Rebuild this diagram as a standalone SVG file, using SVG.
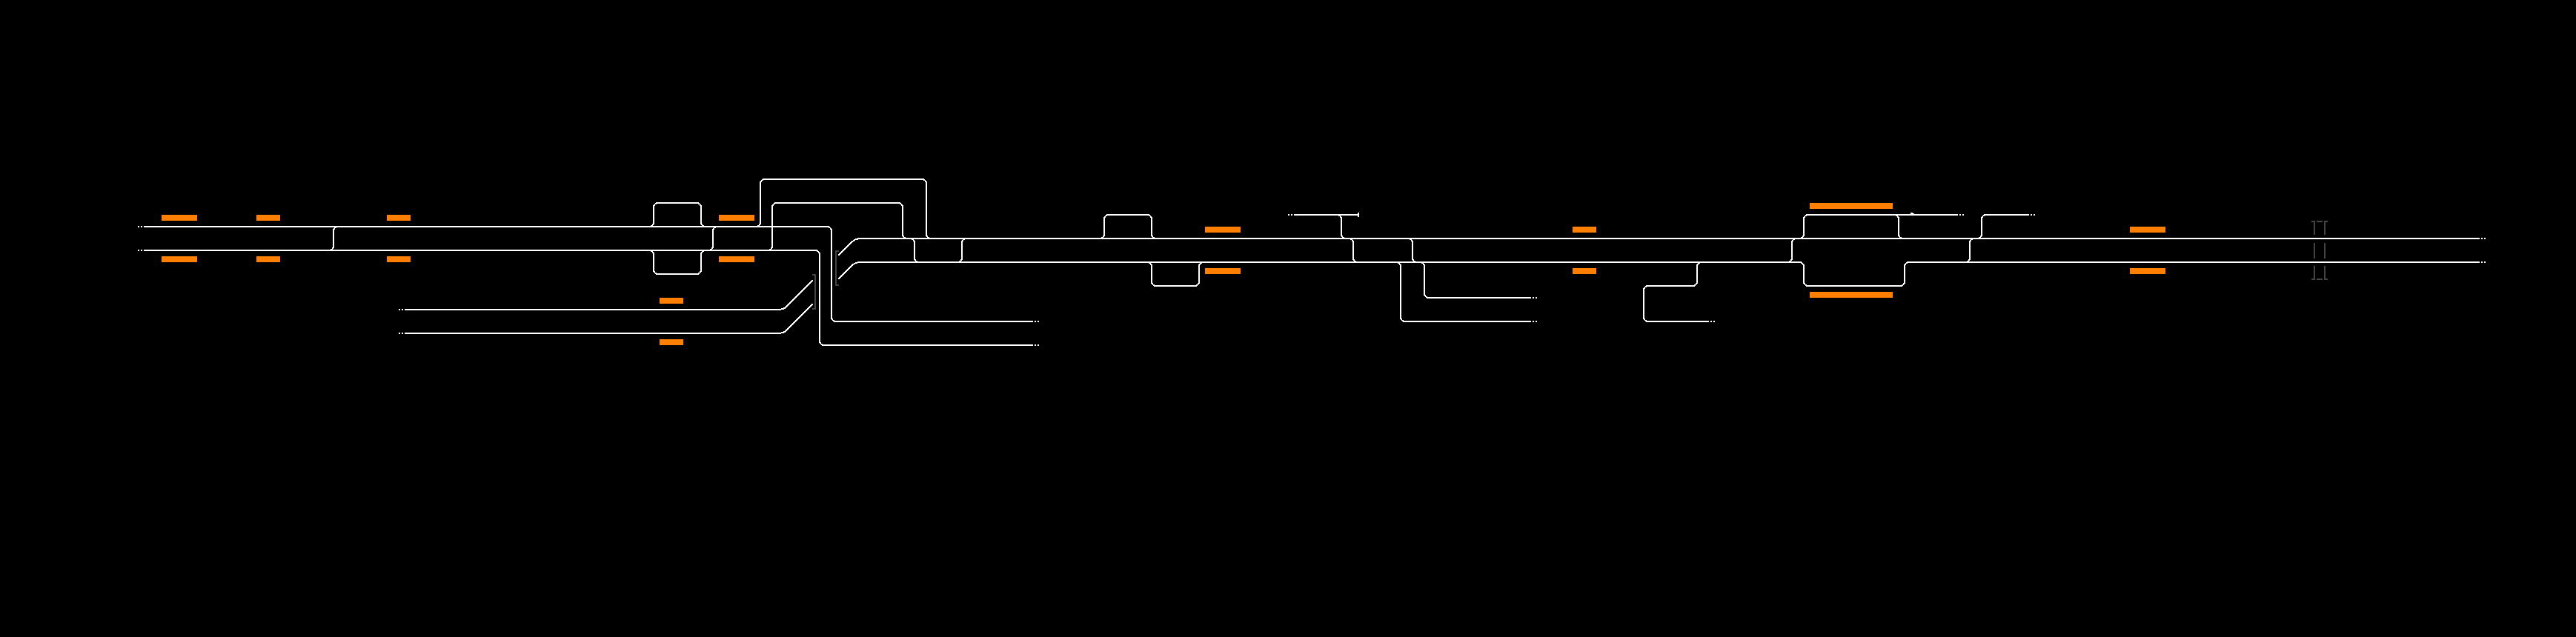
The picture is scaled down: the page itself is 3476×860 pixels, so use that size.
<svg xmlns="http://www.w3.org/2000/svg" width="3476" height="860" viewBox="0 0 3476 860">
<style>
.t{fill:none;stroke:#fff;stroke-width:2;shape-rendering:crispEdges}
.d{fill:none;stroke:#fff;stroke-width:2;stroke-dasharray:2 2;shape-rendering:crispEdges}
.g{fill:none;stroke:#444;stroke-width:2;shape-rendering:crispEdges}
.p{fill:#ff8000;shape-rendering:crispEdges}
</style>
<rect width="3476" height="860" fill="#000"/>
<g id="platforms">
<rect class="p" x="218" y="290" width="48" height="8"/><rect class="p" x="218" y="346" width="48" height="8"/>
<rect class="p" x="346" y="290" width="32" height="8"/><rect class="p" x="346" y="346" width="32" height="8"/>
<rect class="p" x="522" y="290" width="32" height="8"/><rect class="p" x="522" y="346" width="32" height="8"/>
<rect class="p" x="970" y="290" width="48" height="8"/><rect class="p" x="970" y="346" width="48" height="8"/>
<rect class="p" x="890" y="402" width="32" height="8"/><rect class="p" x="890" y="458" width="32" height="8"/>
<rect class="p" x="1626" y="306" width="48" height="8"/><rect class="p" x="1626" y="362" width="48" height="8"/>
<rect class="p" x="2122" y="306" width="32" height="8"/><rect class="p" x="2122" y="362" width="32" height="8"/>
<rect class="p" x="2442" y="274" width="112" height="8"/><rect class="p" x="2442" y="394" width="112" height="8"/>
<rect class="p" x="2874" y="306" width="48" height="8"/><rect class="p" x="2874" y="362" width="48" height="8"/>
</g>
<g id="bridges">
<path class="g" d="M1096 371H1100V417H1096"/>
<path class="g" d="M1132 339H1128V385H1132"/>
<path class="g" d="M3119 299H3123V317M3123 328V349M3123 359V377H3119M3126 299H3134M3126 377H3134M3141 299H3137V317M3137 328V349M3137 359V377H3141"/>
</g>
<g id="connectors">
<path class="t" d="M194 306H1116A6 6 0 0 1 1122 312V428A6 6 0 0 0 1128 434H1394"/>
<path class="t" d="M194 338H1100A6 6 0 0 1 1106 344V460A6 6 0 0 0 1112 466H1394"/>
<path class="t" d="M546 418H1050Q1057.4 418 1062 413.4L1096.7 378.7"/>
<path class="t" d="M546 450H1050Q1057.4 450 1062 445.4L1096.7 410.7"/>
<path class="t" d="M1131.3 345L1150 326.3Q1154.3 322 1162 322H3346"/>
<path class="t" d="M1131.3 376.7L1150 358Q1154 354 1162 354H2428A6 6 0 0 1 2434 360V380A6 6 0 0 0 2440 386H2564A6 6 0 0 0 2570 380V360A6 6 0 0 1 2576 354H3346"/>
<path class="t" d="M456 306A6 6 0 0 0 450 312V332A6 6 0 0 1 444 338"/>
<path class="t" d="M876 306A6 6 0 0 0 882 300V280A6 6 0 0 1 888 274H940A6 6 0 0 1 946 280V300A6 6 0 0 0 952 306"/>
<path class="t" d="M876 338A6 6 0 0 1 882 344V364A6 6 0 0 0 888 370H940A6 6 0 0 0 946 364V344A6 6 0 0 1 952 338"/>
<path class="t" d="M968 306A6 6 0 0 0 962 312V332A6 6 0 0 1 956 338"/>
<path class="t" d="M1020 306A6 6 0 0 0 1026 300V248A6 6 0 0 1 1032 242H1244A6 6 0 0 1 1250 248V316A6 6 0 0 0 1256 322"/>
<path class="t" d="M1036 338A6 6 0 0 0 1042 332V280A6 6 0 0 1 1048 274H1212A6 6 0 0 1 1218 280V316A6 6 0 0 0 1224 322"/>
<path class="t" d="M1228 322A6 6 0 0 1 1234 328V348A6 6 0 0 0 1240 354"/>
<path class="t" d="M1292 354A6 6 0 0 0 1298 348V328A6 6 0 0 1 1304 322"/>
<path class="t" d="M1484 322A6 6 0 0 0 1490 316V296A6 6 0 0 1 1496 290H1548A6 6 0 0 1 1554 296V316A6 6 0 0 0 1560 322"/>
<path class="t" d="M1548 354A6 6 0 0 1 1554 360V380A6 6 0 0 0 1560 386H1612A6 6 0 0 0 1618 380V360A6 6 0 0 1 1624 354"/>
<path class="t" d="M1746 290H1832"/>
<path class="t" d="M1833 287V293"/>
<path class="t" d="M1804 290A6 6 0 0 1 1810 296V316A6 6 0 0 0 1816 322"/>
<path class="t" d="M1820 322A6 6 0 0 1 1826 328V348A6 6 0 0 0 1832 354"/>
<path class="t" d="M1900 322A6 6 0 0 1 1906 328V348A6 6 0 0 0 1912 354"/>
<path class="t" d="M1884 354A6 6 0 0 1 1890 360V428A6 6 0 0 0 1896 434H2066"/>
<path class="t" d="M1916 354A6 6 0 0 1 1922 360V396A6 6 0 0 0 1928 402H2066"/>
<path class="t" d="M2296 354A6 6 0 0 0 2290 360V380A6 6 0 0 1 2284 386H2224A6 6 0 0 0 2218 392V428A6 6 0 0 0 2224 434H2306"/>
<path class="t" d="M2412 354A6 6 0 0 0 2418 348V328A6 6 0 0 1 2424 322"/>
<path class="t" d="M2428 322A6 6 0 0 0 2434 316V296A6 6 0 0 1 2440 290H2556A6 6 0 0 1 2562 296V316A6 6 0 0 0 2568 322"/>
<path class="t" d="M2556 290H2642"/>
<path class="t" d="M2578 288L2583 289"/>
<path class="t" d="M2652 354A6 6 0 0 0 2658 348V328A6 6 0 0 1 2664 322"/>
<path class="t" d="M2668 322A6 6 0 0 0 2674 316V296A6 6 0 0 1 2680 290H2738"/>
<path class="d" d="M186 306H192M186 338H192M538 418H544M538 450H544M1396 434H1402M1396 466H1402M1738 290H1744M2068 402H2074M2068 434H2074M2308 434H2314M2644 290H2650M2740 290H2746M3348 322H3354M3348 354H3354"/>
</g>
</svg>
